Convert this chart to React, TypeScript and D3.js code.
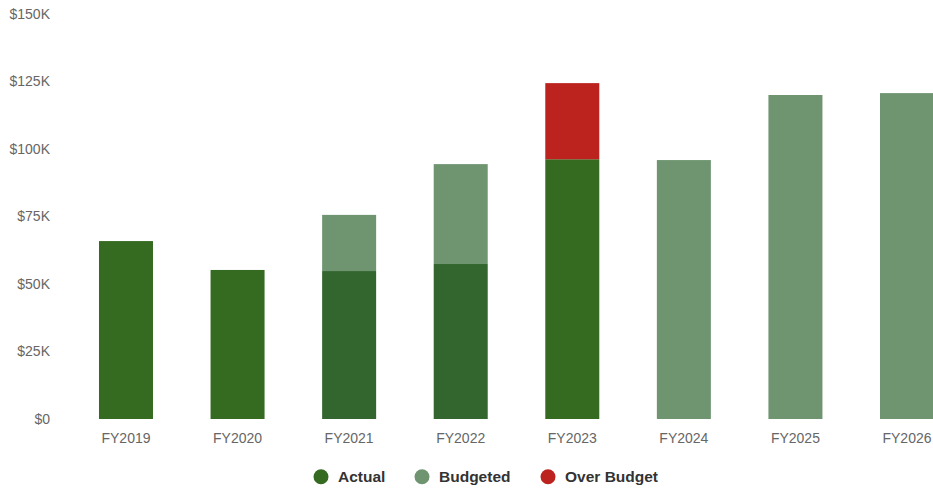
import React from "react";
import * as d3 from "d3";

const categories = ["FY2019", "FY2020", "FY2021", "FY2022", "FY2023", "FY2024", "FY2025", "FY2026"];
// values in $K
const actual = [65.9, 55.2, 54.8, 57.4, 96.2, 0, 0, 0];
const budgetedExtra = [0, 0, 20.8, 37.0, 0, 95.9, 120.0, 120.7];
const overBudget = [0, 0, 0, 0, 28.2, 0, 0, 0];
const yTicks = [0, 25, 50, 75, 100, 125, 150];
const seriesNames = ["Actual", "Budgeted", "Over Budget"];

const W = 933;
const H = 488;
const ACTUAL = "#356a21";
const ACTUAL_MIX = "#33652e";
const BUDGET = "#6e9470";
const OVER = "#bc231e";
const legendColors = [ACTUAL, BUDGET, OVER];

export default function App() {
  const x = d3.scaleBand<string>().domain(categories).range([70.2, 962.8]).paddingInner(0.516).paddingOuter(0.258);
  const y = d3.scaleLinear().domain([0, 150]).range([419, 14]);
  const font = "Arial, 'Liberation Sans', Helvetica, sans-serif";

  const rows = categories.map((c, i) => ({ c, a: actual[i], b: budgetedExtra[i], o: overBudget[i] }));
  const stack = d3.stack<any>().keys(["a", "b", "o"])(rows as any);
  const colorFor = (key: string, i: number) => {
    if (key === "a") return budgetedExtra[i] > 0 ? ACTUAL_MIX : ACTUAL;
    if (key === "b") return BUDGET;
    return OVER;
  };

  const legendX = [321, 422, 548];
  return (
    <svg width={W} height={H} style={{ position: "absolute", left: 0, top: 0 }} fontFamily={font}>
      <rect width={W} height={H} fill="#fff" />
      {yTicks.map((t) => (
        <text key={t} x={50} y={y(t)} dy="0.35em" textAnchor="end" fontSize={14} fill="#666">
          {t === 0 ? "$0" : `$${t}K`}
        </text>
      ))}
      {stack.map((s) =>
        s.map((d, i) =>
          d[1] - d[0] > 0 ? (
            <rect
              key={s.key + i}
              x={x(categories[i])}
              width={x.bandwidth()}
              y={y(d[1])}
              height={y(d[0]) - y(d[1])}
              fill={colorFor(s.key, i)}
            />
          ) : null
        )
      )}
      {categories.map((c) => (
        <text key={c} x={(x(c) as number) + x.bandwidth() / 2} y={443} textAnchor="middle" fontSize={14} fill="#666">
          {c}
        </text>
      ))}
      {seriesNames.map((n, i) => (
        <g key={n}>
          <circle cx={legendX[i]} cy={476.7} r={7.5} fill={legendColors[i]} />
          <text x={legendX[i] + 17} y={476.7} dy="0.35em" fontSize={15.5} fontWeight="bold" fill="#333">
            {n}
          </text>
        </g>
      ))}
    </svg>
  );
}
